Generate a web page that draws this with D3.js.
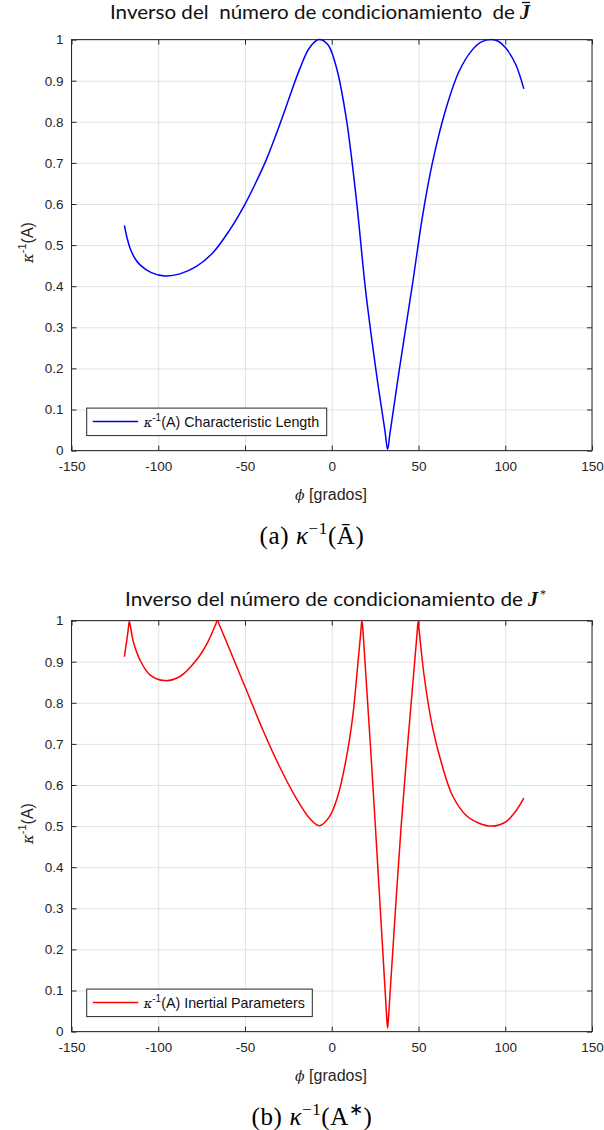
<!DOCTYPE html>
<html><head><meta charset="utf-8">
<script src="https://cdn.jsdelivr.net/npm/d3@7"></script>
<style>body{margin:0;background:#fff} svg{display:block}</style>
</head><body>
<script>
// Panel (a): Characteristic Length
const phiA = [-119.5,-118,-116.3,-113.5,-110.5,-104,-96.2,-87.5,-78,-68.4,-58.8,-50.2,-44,-37.7,-32,-26.2,-18.6,-12.8,-7.5,-2.3,2.5,8.2,14,19.7,26,30.7,32.2,33.5,38.9,46.6,52.3,58,65.7,73.4,81,86,92,96,100.2,106,110.7];
const kA   = [0.548,0.518,0.493,0.468,0.452,0.433,0.425,0.430,0.448,0.482,0.537,0.598,0.65,0.708,0.77,0.838,0.927,0.98,1.0,0.988,0.935,0.813,0.618,0.383,0.18,0.047,0.003,0.04,0.196,0.407,0.57,0.70,0.83,0.923,0.975,0.994,1.0,0.996,0.98,0.94,0.88];
// Panel (b): Inertial Parameters
const phiB = [-119.5,-117.4,-116.7,-116,-114.4,-110.5,-104.8,-96.2,-87.5,-78,-71.3,-67,-65.9,-64.8,-58.8,-49.2,-39.7,-30.1,-20.5,-12.8,-7.1,-1.3,3.4,8.2,12.1,14.9,16.8,17.4,18,25,31.6,32.2,32.8,40,49.2,49.8,50.4,53.3,58,63.8,69.5,77.2,84.9,92,100.2,106,110.7];
const kB   = [0.912,0.975,0.998,0.985,0.949,0.904,0.868,0.854,0.864,0.904,0.949,0.99,1.0,0.99,0.929,0.831,0.734,0.645,0.568,0.519,0.501,0.523,0.572,0.661,0.767,0.888,0.975,1.0,0.975,0.51,0.04,0.009,0.04,0.50,0.97,0.997,0.975,0.864,0.742,0.645,0.575,0.527,0.507,0.5,0.51,0.536,0.568];
const xTicks = [-150,-100,-50,0,50,100,150];
const yTicks = [0,0.1,0.2,0.3,0.4,0.5,0.6,0.7,0.8,0.9,1];
const legendA = "(A) Characteristic Length";
const legendB = "(A) Inertial Parameters";

const W = 604, H = 1130;
const svg = d3.select("body").append("svg").attr("width", W).attr("height", H)
  .attr("font-family", "'Liberation Sans', Arial, sans-serif");

const x = d3.scaleLinear().domain([-150,150]).range([71.5,592]);
const plotH = 411;

function panel(top, phi, k, color, legendText, legendW, caption) {
  const y = d3.scaleLinear().domain([0,1]).range([top+plotH, top]);
  const g = svg.append("g");
  const left = x.range()[0], right = x.range()[1];
  // grid
  g.append("g").attr("transform", `translate(0,${top+plotH})`)
    .call(d3.axisBottom(x).tickValues(xTicks).tickSize(-plotH).tickFormat(""))
    .call(s => { s.select(".domain").remove(); s.selectAll("line").attr("stroke", "#e3e3e3"); });
  g.append("g").attr("transform", `translate(${left},0)`)
    .call(d3.axisLeft(y).tickValues(yTicks).tickSize(-(right-left)).tickFormat(""))
    .call(s => { s.select(".domain").remove(); s.selectAll("line").attr("stroke", "#e3e3e3"); });
  // inner ticks on all sides
  const tk = 5;
  const ax = [
    [d3.axisBottom(x).tickValues(xTicks).tickSize(-tk).tickFormat(""), `translate(0,${top+plotH})`],
    [d3.axisTop(x).tickValues(xTicks).tickSize(-tk).tickFormat(""), `translate(0,${top})`],
    [d3.axisLeft(y).tickValues(yTicks).tickSize(-tk).tickFormat(""), `translate(${left},0)`],
    [d3.axisRight(y).tickValues(yTicks).tickSize(-tk).tickFormat(""), `translate(${right},0)`]
  ];
  ax.forEach(([a,t]) => g.append("g").attr("transform", t).call(a)
    .call(s => { s.select(".domain").remove(); s.selectAll("line").attr("stroke", "#262626"); }));
  // tick labels
  g.append("g").attr("transform", `translate(0,${top+plotH})`)
    .call(d3.axisBottom(x).tickValues(xTicks).tickSize(0).tickPadding(11).tickFormat(d => String(d)))
    .call(s => { s.select(".domain").remove(); s.selectAll("text").attr("font-size", 13.5).attr("fill", "#262626").attr("font-family", "'Liberation Sans', Arial, sans-serif"); });
  g.append("g").attr("transform", `translate(${left},0)`)
    .call(d3.axisLeft(y).tickValues(yTicks).tickSize(0).tickPadding(8).tickFormat(d => String(d)))
    .call(s => { s.select(".domain").remove(); s.selectAll("text").attr("font-size", 13.5).attr("fill", "#262626").attr("font-family", "'Liberation Sans', Arial, sans-serif"); });
  // box
  g.append("rect").attr("x", left).attr("y", top).attr("width", right-left).attr("height", plotH)
    .attr("fill", "none").attr("stroke", "#262626").attr("stroke-width", 1);
  // curve
  const pts = phi.map((p,i) => [p, k[i]]);
  g.append("path").datum(pts)
    .attr("d", d3.line().x(d => x(d[0])).y(d => y(d[1])).curve(d3.curveCatmullRom.alpha(0.5)))
    .attr("fill", "none").attr("stroke", color).attr("stroke-width", 1.5);
  // x label
  const xl = g.append("text").attr("x", 331).attr("y", top+plotH+49).attr("text-anchor", "middle")
    .attr("font-size", 16).attr("fill", "#262626");
  xl.append("tspan").attr("font-family", "'DejaVu Serif', serif").attr("font-style", "italic").attr("font-size", 14).text("ϕ");
  xl.append("tspan").text(" [grados]");
  // y label
  const yl = g.append("text").attr("transform", `translate(33,${top+203}) rotate(-90)`).attr("text-anchor", "middle")
    .attr("font-size", 16).attr("fill", "#262626");
  yl.append("tspan").attr("font-family", "'DejaVu Serif', serif").attr("font-style", "italic").attr("font-size", 15).text("κ");
  yl.append("tspan").attr("dy", -7).attr("font-size", 11).text("-1");
  yl.append("tspan").attr("dy", 7).text("(A)");
  // legend
  const lx = 86.7, ly = top + 368.5;
  g.append("rect").attr("x", lx).attr("y", ly).attr("width", legendW).attr("height", 27.5)
    .attr("fill", "#fff").attr("stroke", "#262626").attr("stroke-width", 1);
  g.append("line").attr("x1", lx+6).attr("x2", lx+51.5).attr("y1", ly+13.5).attr("y2", ly+13.5)
    .attr("stroke", color).attr("stroke-width", 1.5);
  const lt = g.append("text").attr("x", lx+57).attr("y", ly+19).attr("font-size", 14.3).attr("fill", "#111");
  lt.append("tspan").attr("font-family", "'DejaVu Serif', serif").attr("font-style", "italic").attr("font-size", 13).text("κ");
  lt.append("tspan").attr("dy", -6).attr("font-size", 10).text("-1");
  lt.append("tspan").attr("dy", 6).text(legendText);
  // caption
  const cp = g.append("text").attr("x", 312).attr("y", top+plotH+93).attr("text-anchor", "middle")
    .attr("font-family", "'Liberation Serif', 'Times New Roman', serif").attr("font-size", 25)
    .attr("letter-spacing", 0.6).attr("fill", "#000");
  cp.append("tspan").text(caption[0] + " ");
  cp.append("tspan").attr("font-style", "italic").text("κ");
  cp.append("tspan").attr("dy", -10).attr("font-size", 17).text("−1");
  cp.append("tspan").attr("dy", 10).text("(" + caption[1]);
  if (caption[2]) cp.append("tspan").attr("dy", -10).attr("font-size", 17).text(caption[2]);
  cp.append("tspan").attr("dy", caption[2] ? 10 : 0).text(")");
  return g;
}

panel(39.6, phiA, kA, "#0000ff", legendA, 240, ["(a)", "Ā", null]);
panel(620.6, phiB, kB, "#ff0000", legendB, 225.6, ["(b)", "A", "∗"]);

// titles
function title(yb, txt, x0, w, star) {
  const t = svg.append("text").attr("x", x0).attr("y", yb).attr("font-family", "Lato, 'Open Sans', sans-serif")
    .attr("font-size", 18.5).attr("fill", "#111").style("white-space", "pre");
  t.append("tspan").attr("textLength", w).attr("lengthAdjust", "spacingAndGlyphs").text(txt);
  svg.append("text").attr("x", x0 + w + 5).attr("y", yb)
    .attr("font-family", "'Liberation Serif', serif").attr("font-weight", "bold").attr("font-style", "italic")
    .attr("font-size", 20).attr("fill", "#111").text("J");
  if (star) {
    svg.append("text").attr("x", x0 + w + 17).attr("y", yb - 8).attr("font-family", "'Liberation Serif', serif")
      .attr("font-size", 12).attr("fill", "#111").text("*");
  } else {
    svg.append("line").attr("x1", x0 + w + 7).attr("x2", x0 + w + 15).attr("y1", yb - 16).attr("y2", yb - 16)
      .attr("stroke", "#111").attr("stroke-width", 1.3);
  }
}
title(18.5, "Inverso del  número de condicionamiento  de", 110, 405, false);
title(606, "Inverso del número de condicionamiento de", 125, 398, true);
</script>
</body></html>
